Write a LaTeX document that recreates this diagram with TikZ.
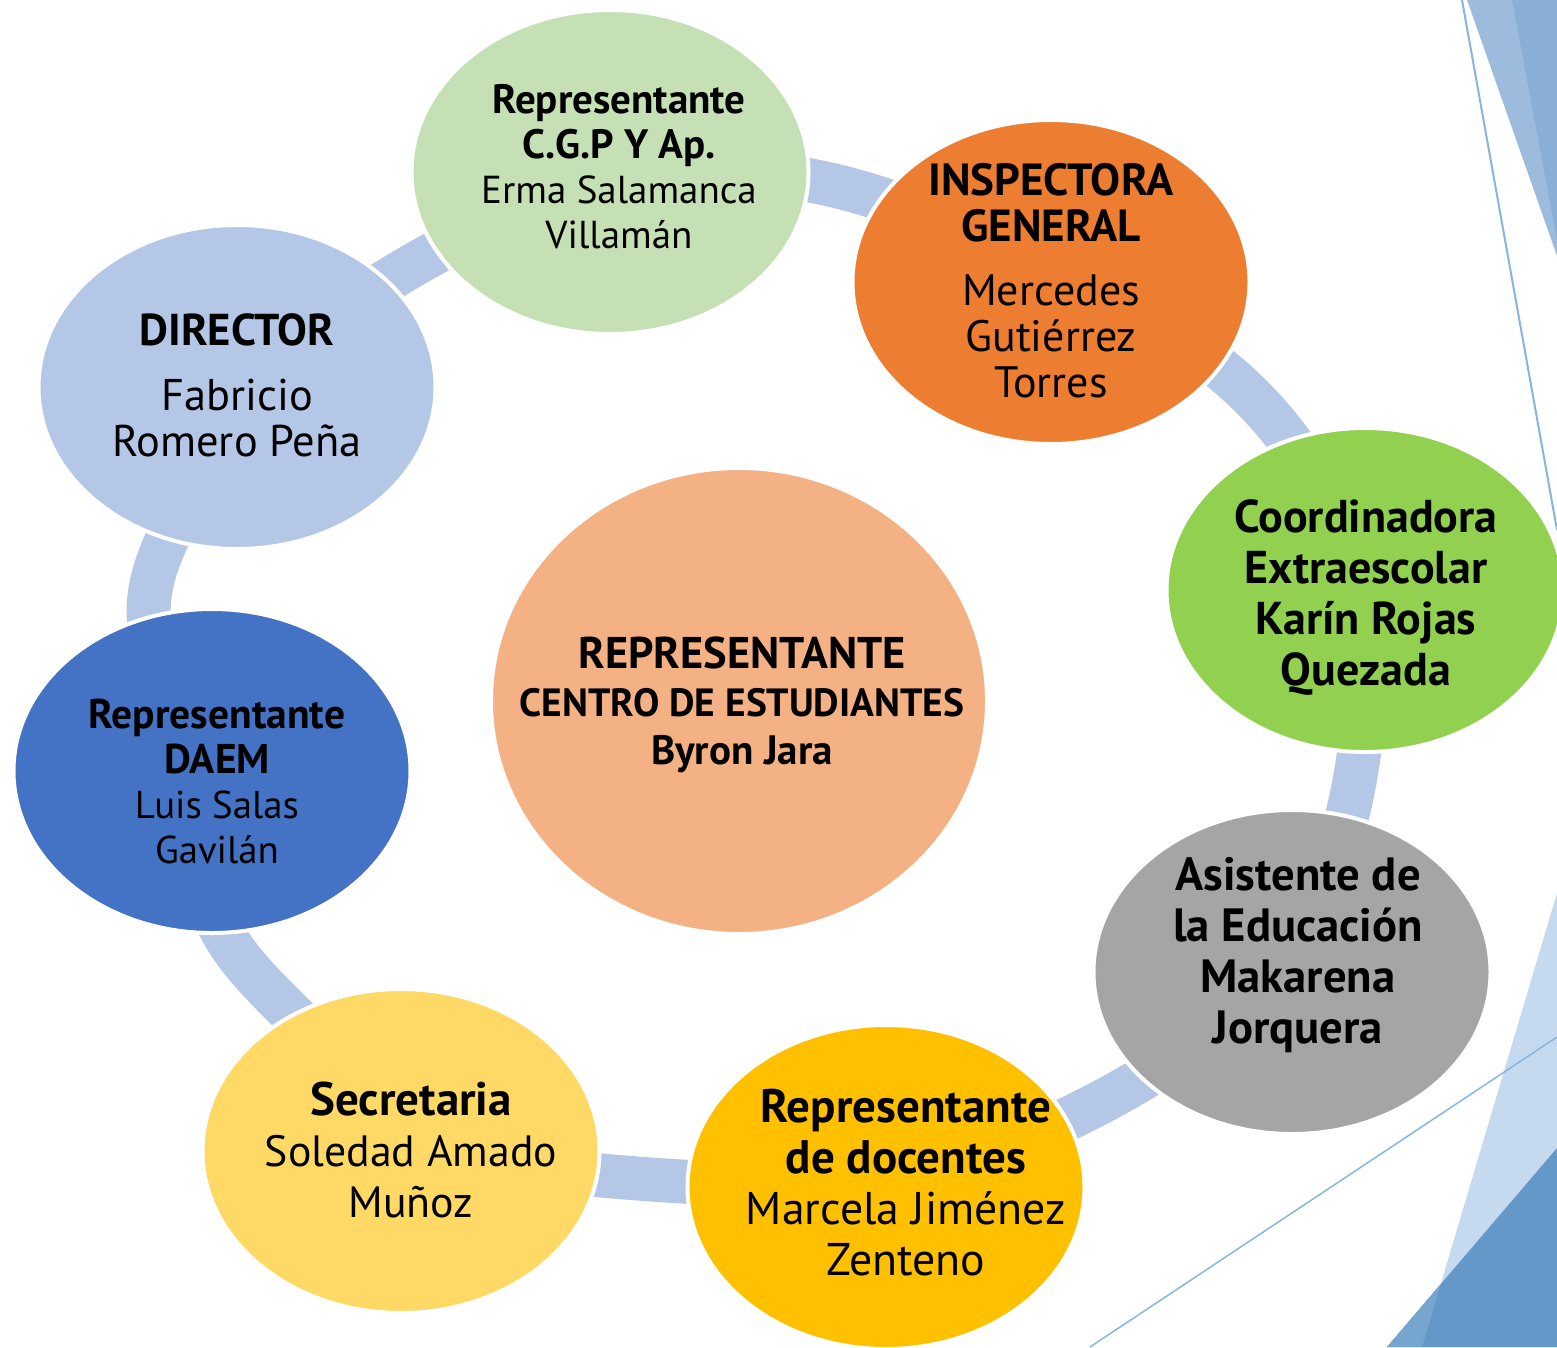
\documentclass[tikz,border=0pt]{standalone}
\usepackage{fontspec}
\setmainfont{PT Sans}
\usetikzlibrary{shapes.geometric}
\definecolor{ringc}{HTML}{B4C7E7}
\definecolor{cgpc}{HTML}{C5E0B4}
\definecolor{inspc}{HTML}{ED7D31}
\definecolor{dirc}{HTML}{B4C7E7}
\definecolor{daemc}{HTML}{4472C4}
\definecolor{cenc}{HTML}{F4B183}
\definecolor{coordc}{HTML}{92D050}
\definecolor{asisc}{HTML}{A5A5A5}
\definecolor{docc}{HTML}{FFC000}
\definecolor{secc}{HTML}{FFD966}
\definecolor{decolight}{HTML}{9DBCDD}
\definecolor{decodark}{HTML}{8AAFD6}
\definecolor{decoline}{HTML}{88B4E0}
\definecolor{decopale}{HTML}{C5DAEF}
\definecolor{decodeep}{HTML}{6498C9}
\definecolor{decomid}{HTML}{76A5D0}
\pgfdeclarelayer{background}
\pgfsetlayers{background,main}
\newcommand\fsz[2]{\fontsize{#1pt}{#2pt}\selectfont}
\newcommand\lnb[2]{{\fontsize{#1pt}{#1pt}\selectfont\bfseries #2}}
\newcommand\lnr[2]{{\fontsize{#1pt}{#1pt}\selectfont #2}}
\tikzset{
  bubble/.style={ellipse, draw=white, line width=4pt, inner sep=0pt,
    minimum width=397pt, minimum height=324pt},
  txt/.style={align=center, inner sep=0pt, text=black},
  conn/.style={draw=ringc, line width=44pt},
}
\begin{document}
\begin{tikzpicture}[x=1pt,y=-1pt]
\useasboundingbox (0,0) rectangle (1557,1347);
% bubbles
\node[bubble, fill=cgpc] (cgp) at (610,172) {};
\node[bubble, fill=inspc] (insp) at (1051,282) {};
\node[bubble, fill=coordc] (coord) at (1365,590) {};
\node[bubble, fill=asisc] (asis) at (1292,972) {};
\node[bubble, fill=docc] (doc) at (886,1187) {};
\node[bubble, fill=secc] (sec) at (401,1151) {};
\node[bubble, fill=daemc] (daem) at (212,771) {};
\node[bubble, fill=dirc] (dir) at (237,387) {};
\node[bubble, fill=cenc, minimum width=496pt, minimum height=466pt] (cen) at (739,701) {};
% texts
\node[txt, font=\fsz{39}{45}] (cgp-t) at (619,167)
  {\lnb{41}{Representante}\\\lnb{41}{C.G.P Y Ap.}\\\lnr{39}{Erma Salamanca}\\\lnr{39}{Villamán}};
\node[txt, font=\fsz{44}{46}] (insp-t) at (1051,281)
  {\lnb{45}{INSPECTORA}\\\lnb{45}{GENERAL}\\[18pt]\lnr{44}{Mercedes}\\\lnr{44}{Gutiérrez}\\\lnr{44}{Torres}};
\node[txt, font=\fsz{44}{46}] (dir-t) at (237,385)
  {\lnb{44.6}{DIRECTOR}\\[19pt]\lnr{44.4}{Fabricio}\\\lnr{44.4}{Romero Peña}};
\node[txt, font=\fsz{39}{45}] (daem-t) at (217,781)
  {\lnb{41.5}{Representante}\\\lnb{41.5}{DAEM}\\\lnr{38.8}{Luis Salas}\\\lnr{38.8}{Gavilán}};
\node[txt, font=\fsz{40}{48}] (cen-t) at (742,705)
  {\lnb{44.4}{REPRESENTANTE}\\\lnb{39.4}{CENTRO DE ESTUDIANTES}\\\lnb{41}{Byron Jara}};
\node[txt, font=\fsz{46}{51}] (coord-t) at (1366,598)
  {\lnb{46}{Coordinadora}\\\lnb{46}{Extraescolar}\\\lnb{46}{Karín Rojas}\\\lnb{46}{Quezada}};
\node[txt, font=\fsz{46}{51}] (asis-t) at (1298,955)
  {\lnb{46.6}{Asistente de}\\\lnb{46.6}{la Educación}\\\lnb{46.6}{Makarena}\\\lnb{46.6}{Jorquera}};
\node[txt, font=\fsz{46}{51}] (doc-t) at (906,1183)
  {\lnb{47}{Representante}\\\lnb{47}{de docentes}\\\lnr{45.8}{Marcela Jiménez}\\\lnr{45.8}{Zenteno}};
\node[txt, font=\fsz{46}{51}] (sec-t) at (411,1150)
  {\lnb{47}{Secretaria}\\\lnr{43.8}{Soledad Amado}\\\lnr{43.8}{Muñoz}};
\begin{pgfonlayer}{background}
  % decorations
  \coordinate (tl1) at (1467,0);
  \coordinate (tl2) at (1557,0);
  \coordinate (tl3) at (1557,256);
  \coordinate (td1) at (1512,0);
  \coordinate (td3) at (1557,240);
  \fill[decolight] (tl1) -- (tl2) -- (tl3) -- cycle;
  \fill[decodark] (td1) -- (tl2) -- (td3) -- cycle;
  \coordinate (ln1a) at (1462,0);
  \coordinate (ln1b) at (1557,530);
  \draw[decoline, line width=2pt] (ln1a) -- (ln1b);
  \coordinate (bp1) at (1557,893);
  \coordinate (bp2) at (1422,1347);
  \coordinate (bp3) at (1557,1347);
  \fill[decopale] (bp1) -- (bp2) -- (bp3) -- cycle;
  \coordinate (bd1) at (1557,1148);
  \coordinate (bd2) at (1387,1347);
  \coordinate (bx) at (1440.7,1284);
  \fill[decodeep] (bd1) -- (bd2) -- (bp3) -- cycle;
  \fill[decomid] (bx) -- (bd2) -- (bp2) -- cycle;
  \coordinate (ln2a) at (1557,1037);
  \coordinate (ln2b) at (1090,1347);
  \draw[decoline, line width=1.5pt] (ln2a) -- (ln2b);
  % ring connectors
  \draw[conn] (dir.center) to[bend left=8] (cgp.center);
  \draw[conn] (cgp.center) to[bend left=18] (insp.center);
  \draw[conn] (insp.center) to[bend left=27] (coord.center);
  \draw[conn] (coord.center) to[bend left=13] (asis.center);
  \draw[conn] (asis.center) to[bend left=11] (doc.center);
  \draw[conn] (doc.center) to[bend left=4] (sec.center);
  \coordinate (sd1) at (306,976);
  \coordinate (sd2) at (161,976);
  \draw[conn] (sec.center) .. controls (sd1) and (sd2) .. (daem.center);
  \coordinate (dd1) at (93,578);
  \coordinate (dd2) at (165,578);
  \draw[conn] (daem.center) .. controls (dd1) and (dd2) .. (dir.center);
\end{pgfonlayer}
\end{tikzpicture}
\end{document}
